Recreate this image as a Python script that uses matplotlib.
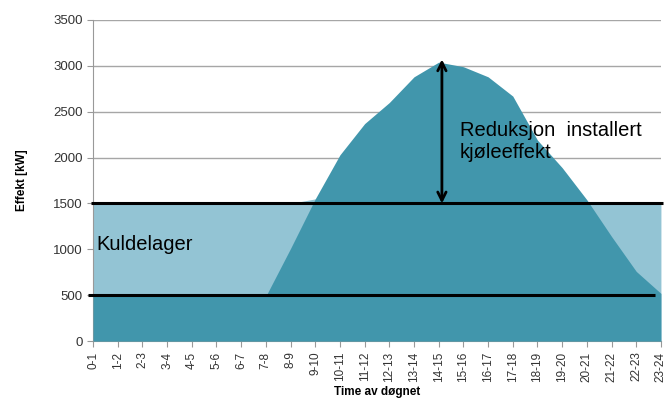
import numpy as np
import matplotlib.pyplot as plt

plt.rcParams['font.family'] = ['Liberation Sans', 'DejaVu Sans']

# Hours of the day
hours = ['0-1', '1-2', '2-3', '3-4', '4-5', '5-6', '6-7', '7-8', '8-9', '9-10',
         '10-11', '11-12', '12-13', '13-14', '14-15', '15-16', '16-17', '17-18',
         '18-19', '19-20', '20-21', '21-22', '22-23', '23-24']

# Cooling load (kW)
load = [490, 490, 490, 490, 490, 490, 490, 490, 1010, 1550,
        2030, 2370, 2600, 2880, 3040, 2990, 2880, 2670,
        2190, 1890, 1540, 1140, 760, 520]

# Storage-covered level (kW)
storage = [1500] * 24
storage[9] = 1550

capacity_level = 1500
base_level = 500
peak_idx = 14

x = np.arange(len(hours))

fig = plt.figure(figsize=(6.71, 4.15), dpi=100)
ax = fig.add_axes([0.1386, 0.178, 0.8464, 0.774])

dark = '#4196ac'
light = '#93c4d4'

ax.fill_between(x, 0, storage, color=light, lw=0, zorder=2)
ax.fill_between(x, 0, load, color=dark, lw=0, zorder=3)

# horizontal reference lines
ax.plot([-0.1, 23.1], [capacity_level, capacity_level], color='black', lw=2.2,
        clip_on=False, zorder=5, solid_capstyle='butt')
ax.plot([-0.2, 22.75], [base_level, base_level], color='black', lw=2.2,
        clip_on=False, zorder=5, solid_capstyle='butt')

# arrow showing reduction in installed cooling power
ax.annotate('', xy=(peak_idx + 0.13, 3070), xytext=(peak_idx + 0.13, capacity_level),
            arrowprops=dict(arrowstyle='<->', color='black', lw=2,
                            mutation_scale=15, shrinkA=0, shrinkB=0),
            zorder=6)

ax.text(14.85, 2170, 'Reduksjon  installert\nkjøleeffekt', fontsize=14.5,
        va='center', ha='left', zorder=6, linespacing=1.2)
ax.text(0.15, 1050, 'Kuldelager', fontsize=14.5, va='center', ha='left', zorder=6)

ax.set_xlim(0, 23)
ax.set_ylim(0, 3500)
ax.set_yticks(np.arange(0, 3501, 500))
ax.set_xticks(x)
ax.set_xticklabels(hours, rotation=90, fontsize=8.5, color='#333333')
ax.tick_params(axis='y', labelsize=9.5, colors='#333333', length=4, color='#999999')
ax.tick_params(axis='x', length=4, color='#999999')
for lab in ax.get_yticklabels():
    lab.set_color('#333333')

ax.grid(axis='y', color='#a6a6a6', lw=1, zorder=1)
ax.set_axisbelow(True)
for side in ['top', 'right']:
    ax.spines[side].set_visible(False)
ax.spines['left'].set_color('#999999')
ax.spines['bottom'].set_color('#999999')

ax.set_ylabel('Effekt [kW]', fontsize=8.5, fontweight='bold', labelpad=18)
ax.set_xlabel('Time av døgnet', fontsize=8.5, fontweight='bold', labelpad=3)

plt.savefig('out.png', dpi=100)
